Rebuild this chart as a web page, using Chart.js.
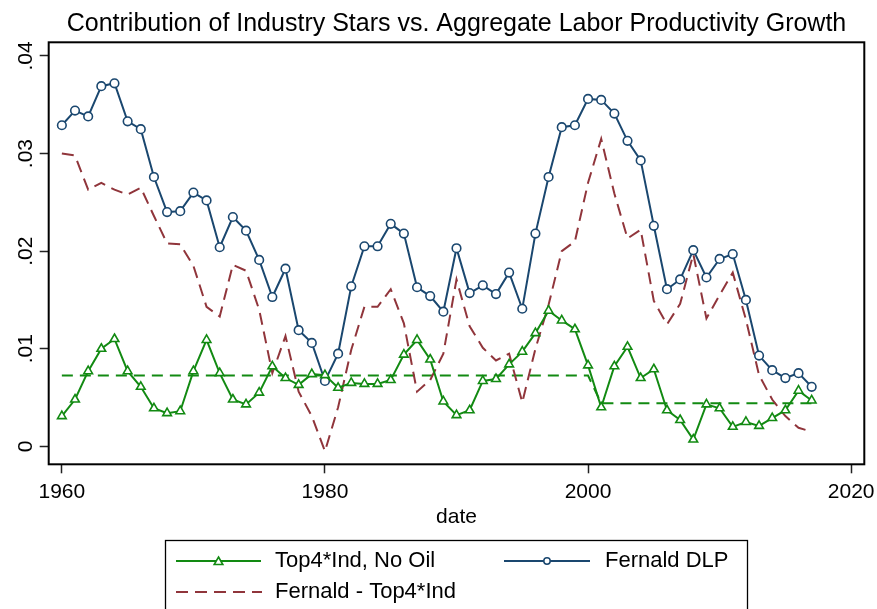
<!DOCTYPE html>
<html><head><meta charset="utf-8">
<script src="https://cdn.jsdelivr.net/npm/chart.js@4"></script>
<style>html,body{margin:0;padding:0;background:#fff;}</style>
</head><body>
<canvas id="c" width="877" height="609"></canvas>
<script>
const years = [1960,1961,1962,1963,1964,1965,1966,1967,1968,1969,
  1970,1971,1972,1973,1974,1975,1976,1977,1978,1979,
  1980,1981,1982,1983,1984,1985,1986,1987,1988,1989,
  1990,1991,1992,1993,1994,1995,1996,1997,1998,1999,
  2000,2001,2002,2003,2004,2005,2006,2007,2008,2009,
  2010,2011,2012,2013,2014,2015,2016,2017];

const top4NoOil = [.0031,.0048,.0077,.0100,.0110,.0077,.0061,.0039,.0034,.0036,
  .0077,.0109,.0075,.0048,.0043,.0055,.0082,.0070,.0063,.0074,
  .0073,.0060,.0065,.0064,.0064,.0068,.0094,.0109,.0089,.0046,
  .0032,.0037,.0067,.0069,.0084,.0097,.0116,.0139,.0129,.0120,
  .0083,.0040,.0082,.0102,.0070,.0079,.0037,.0027,.0007,.0043,
  .0039,.0020,.0025,.0021,.0029,.0037,.0057,.0047];

const fernaldDLP = [.0329,.0344,.0338,.0369,.0372,.0333,.0325,.0276,.0240,.0241,
  .0260,.0252,.0204,.0235,.0221,.0191,.0153,.0182,.0119,.0106,
  .0067,.0095,.0164,.0205,.0205,.0228,.0218,.0163,.0154,.0138,
  .0203,.0157,.0165,.0156,.0178,.0141,.0218,.0276,.0327,.0329,
  .0356,.0355,.0341,.0313,.0293,.0226,.0161,.0171,.0201,.0173,
  .0192,.0197,.0150,.0093,.0078,.0070,.0075,.0061];

const fernaldMinusTop4 = [.0300,.0298,.0263,.0270,.0263,.0258,.0265,.0236,.0208,.0207,
  .0185,.0143,.0133,.0186,.0180,.0140,.0075,.0113,.0056,.0031,
  -.0005,.0040,.0099,.0143,.0143,.0161,.0126,.0056,.0068,.0095,
  .0171,.0123,.0101,.0088,.0095,.0045,.0100,.0145,.0200,.0210,
  .0270,.0315,.0259,.0213,.0222,.0149,.0125,.0146,.0197,.0131,
  .0155,.0178,.0130,.0073,.0048,.0031,.0019,.0015];

const periodMean = [.00725,.00725,.00725,.00725,.00725,.00725,.00725,.00725,.00725,.00725,
  .00725,.00725,.00725,.00725,.00725,.00725,.00725,.00725,.00725,.00725,
  .00725,.00725,.00725,.00725,.00725,.00725,.00725,.00725,.00725,.00725,
  .00725,.00725,.00725,.00725,.00725,.00725,.00725,.00725,.00725,.00725,
  .00725,.00442,.00442,.00442,.00442,.00442,.00442,.00442,.00442,.00442,
  .00442,.00442,.00442,.00442,.00442,.00442,.00442,.00442];

const xTicks = [1960,1980,2000,2020];
const yTicks = [0,.01,.02,.03,.04];
const yTickLabels = ['0','.01','.02','.03','.04'];
const seriesLabels = ['Top4*Ind, No Oil','Fernald DLP','Fernald - Top4*Ind'];

const NAVY = '#1a476f', MAROON = '#90353b', GREEN = '#128a12';
const FONT = "'Liberation Sans', Arial, sans-serif";

const pts = arr => years.map((y,i)=>({x:y, y:arr[i]}));

const framePlugin = {
  id:'frame',
  beforeDatasetsDraw(chart){
    const {ctx, chartArea:a} = chart;
    ctx.save();
    ctx.strokeStyle = '#000';
    ctx.lineWidth = 2;
    ctx.strokeRect(a.left, a.top, a.right-a.left, a.bottom-a.top);
    ctx.restore();
  }
};

const legendPlugin = {
  id:'customLegend',
  afterDraw(chart){
    const ctx = chart.ctx;
    ctx.save();
    ctx.strokeStyle = '#000';
    ctx.lineWidth = 1.3;
    ctx.strokeRect(165.5, 540.5, 582, 100);
    ctx.font = '22px ' + FONT;
    ctx.fillStyle = '#000';
    ctx.textBaseline = 'middle';
    ctx.textAlign = 'left';
    const dp = Chart.helpers.drawPoint;
    ctx.strokeStyle = GREEN; ctx.lineWidth = 2; ctx.setLineDash([]);
    ctx.beginPath(); ctx.moveTo(176,561); ctx.lineTo(261,561); ctx.stroke();
    ctx.fillStyle = '#fff'; ctx.lineWidth = 1.6;
    dp(ctx, {pointStyle:'triangle', radius:5, borderWidth:1.6}, 218.5, 562);
    ctx.fillStyle = '#000';
    ctx.fillText(seriesLabels[0], 275, 561);
    ctx.strokeStyle = NAVY; ctx.lineWidth = 2;
    ctx.beginPath(); ctx.moveTo(504,561); ctx.lineTo(590,561); ctx.stroke();
    ctx.fillStyle = '#fff'; ctx.lineWidth = 1.5;
    dp(ctx, {pointStyle:'circle', radius:3.2, borderWidth:1.5}, 547, 561);
    ctx.fillStyle = '#000';
    ctx.fillText(seriesLabels[1], 605, 561);
    ctx.strokeStyle = MAROON; ctx.lineWidth = 2; ctx.setLineDash([12,7]);
    ctx.beginPath(); ctx.moveTo(176,592); ctx.lineTo(262,592); ctx.stroke();
    ctx.setLineDash([]);
    ctx.fillText(seriesLabels[2], 275, 592);
    ctx.restore();
  }
};

new Chart(document.getElementById('c'), {
  type:'line',
  data:{
    datasets:[
      {label:seriesLabels[0], data:pts(top4NoOil), borderColor:GREEN, borderWidth:2,
       pointStyle:'triangle', pointRadius:5, pointBorderWidth:1.6, pointBorderColor:GREEN,
       pointBackgroundColor:'#fff', tension:0, order:1},
      {label:seriesLabels[1], data:pts(fernaldDLP), borderColor:NAVY, borderWidth:2,
       pointStyle:'circle', pointRadius:4.3, pointBorderWidth:1.6, pointBorderColor:NAVY,
       pointBackgroundColor:'#fff', tension:0, order:2},
      {label:seriesLabels[2], data:pts(fernaldMinusTop4), borderColor:MAROON, borderWidth:2,
       borderDash:[12,7], pointRadius:0, tension:0, order:3},
      {label:'mean', data:pts(periodMean), borderColor:GREEN, borderWidth:2,
       borderDash:[11,7], pointRadius:0, tension:0, order:4}
    ]
  },
  options:{
    responsive:false, animation:false, devicePixelRatio:1,
    layout:{padding:{left:0, top:0, right:12.7, bottom:74.7}},
    plugins:{
      legend:{display:false},
      tooltip:{enabled:false},
      title:{display:true, fullSize:false, text:'Contribution of Industry Stars vs. Aggregate Labor Productivity Growth',
        color:'#000', font:{family:FONT, size:25, weight:'normal', lineHeight:1.2},
        padding:{top:9.3, bottom:3}}
    },
    scales:{
      x:{type:'linear', min:1959, max:2021,
        afterBuildTicks(s){ s.ticks = xTicks.map(v=>({value:v})); },
        afterFit(s){ s.height = 70; s.paddingLeft = 0; s.paddingRight = 0; },
        ticks:{color:'#000', font:{family:FONT, size:21}, padding:6.8, maxRotation:0,
          callback:v=>String(v)},
        grid:{drawOnChartArea:false, drawTicks:true, tickLength:9, tickColor:'#222', tickWidth:1.5},
        border:{display:false},
        title:{display:true, text:'date', color:'#000', font:{family:FONT, size:21, lineHeight:1.2},
          padding:{top:0, bottom:4.7}}
      },
      y:{type:'linear', min:-0.00184, max:0.0414,
        afterBuildTicks(s){ s.ticks = yTicks.map(v=>({value:v})); },
        afterFit(s){ s.width = 48.7; s.paddingTop = 0; s.paddingBottom = 0; },
        ticks:{color:'#000', font:{family:FONT, size:21}, minRotation:90, maxRotation:90,
          crossAlign:'center', padding:-1,
          callback:(v)=>{ const i = yTicks.findIndex(t=>Math.abs(t-v)<1e-9); return i>=0 ? yTickLabels[i] : ''; }},
        grid:{drawOnChartArea:false, drawTicks:true, tickLength:9, tickColor:'#222', tickWidth:1.5},
        border:{display:false}
      }
    }
  },
  plugins:[framePlugin, legendPlugin]
});
</script>
</body></html>
